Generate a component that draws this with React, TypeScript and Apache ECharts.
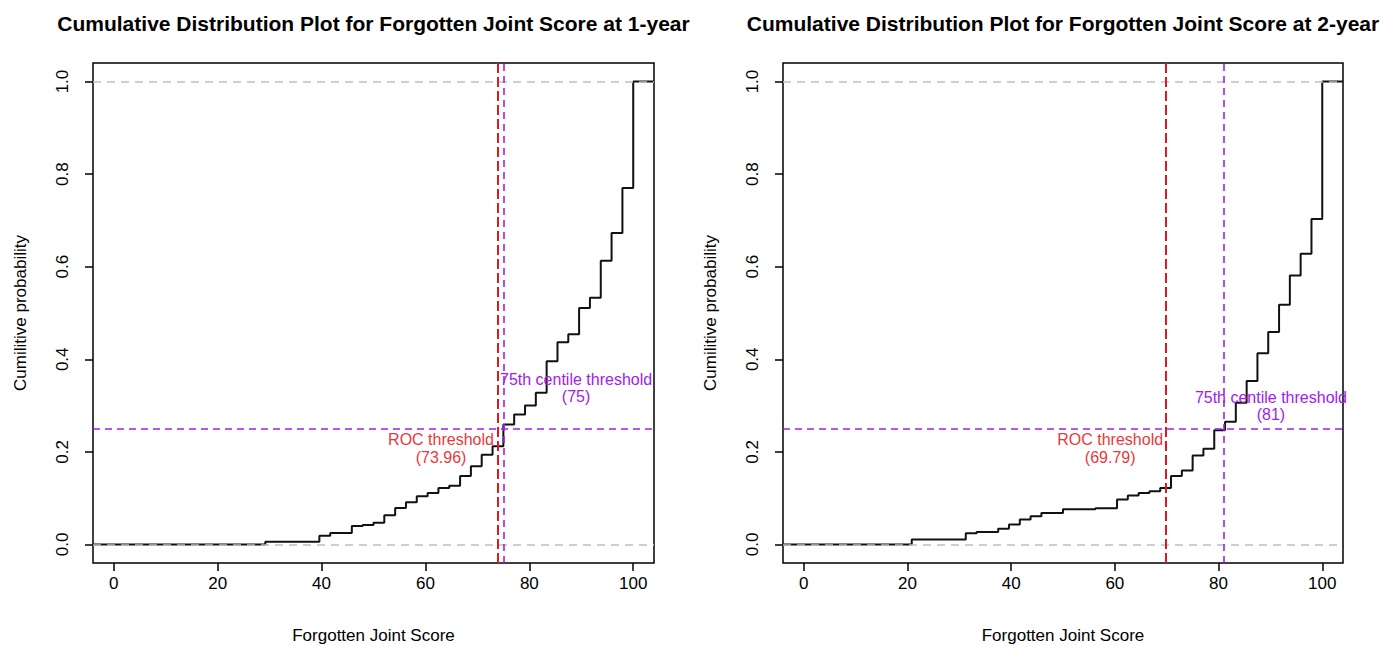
import React, { useEffect, useRef } from "react";
import * as echarts from "echarts";

// ---------- data ----------
const X_MIN = -4;
const X_MAX = 104;
const Y_MIN = -0.04;
const Y_MAX = 1.04;
const xTicks = [0, 20, 40, 60, 80, 100];
const yTicks = [0, 0.2, 0.4, 0.6, 0.8, 1.0];

const scores1y = [29.17, 39.58, 41.67, 45.83, 47.92, 50, 52.08, 54.17, 56.25, 58.33, 60.42, 62.5, 64.58, 66.67, 68.75, 70.83, 72.92, 75, 77.08, 79.17, 81.25, 83.33, 85.42, 87.5, 89.58, 91.67, 93.75, 95.83, 97.92, 100];
const cumProb1y = [0.006, 0.019, 0.025, 0.04, 0.042, 0.047, 0.063, 0.079, 0.091, 0.104, 0.111, 0.122, 0.127, 0.148, 0.169, 0.194, 0.212, 0.259, 0.281, 0.3, 0.328, 0.396, 0.437, 0.454, 0.511, 0.533, 0.613, 0.673, 0.77, 1.0];

const scores2y = [20.83, 31.25, 33.33, 37.5, 39.58, 41.67, 43.75, 45.83, 50, 56.25, 60.42, 62.5, 64.58, 66.67, 68.75, 70.83, 72.92, 75, 77.08, 79.17, 81.25, 83.33, 85.42, 87.5, 89.58, 91.67, 93.75, 95.83, 97.92, 100];
const cumProb2y = [0.011, 0.024, 0.027, 0.034, 0.043, 0.054, 0.061, 0.068, 0.076, 0.078, 0.097, 0.106, 0.111, 0.115, 0.122, 0.148, 0.16, 0.192, 0.207, 0.247, 0.265, 0.306, 0.353, 0.413, 0.459, 0.518, 0.581, 0.628, 0.703, 1.0];

const rocThresholds = [73.96, 69.79];
const centile75Thresholds = [75, 81];
const centileLevel = 0.25;
const refLevels = [0, 1];

const titles = [
  "Cumulative Distribution Plot for Forgotten Joint Score at 1-year",
  "Cumulative Distribution Plot for Forgotten Joint Score at 2-year",
];
const xName = "Forgotten Joint Score";
const yName = "Cumilitive probability";

const rocLabelPos = [[63, 0.207], [59.1, 0.207]];
const centileLabelPos = [[89, 0.338], [90.1, 0.3]];

// ---------- styles ----------
const FONT = "Liberation Sans, Arial, sans-serif";
const RED = "#e0191c";
const RED_TEXT = "#e8393b";
const PURPLE = "#a020f0";
const GREY = "#c0c0c0";
const TICK_LEN = 8;

const grids = [
  { left: 93, top: 63, width: 561, height: 500 },
  { left: 783, top: 63, width: 560, height: 500 },
];

function buildOption() {
  const panels = [
    { scores: scores1y, probs: cumProb1y },
    { scores: scores2y, probs: cumProb2y },
  ];
  const series: any[] = [];
  panels.forEach((p, i) => {
    const stepData: number[][] = [[X_MIN, 0]];
    p.scores.forEach((s, k) => stepData.push([s, p.probs[k]]));
    stepData.push([X_MAX, p.probs[p.probs.length - 1]]);
    series.push({
      type: "line",
      xAxisIndex: i,
      yAxisIndex: i,
      step: "end",
      symbol: "none",
      showSymbol: false,
      silent: true,
      z: 2,
      lineStyle: { color: "#111", width: 2 },
      data: stepData,
    });
    series.push({
      type: "line",
      xAxisIndex: i,
      yAxisIndex: i,
      data: [],
      z: 3,
      markLine: {
        symbol: "none",
        silent: true,
        z: 3,
        label: { show: false },
        data: refLevels.map((v) => ({
          yAxis: v,
          lineStyle: { color: GREY, width: 1.5, type: [8, 6] },
        })),
      },
    });
    series.push({
      type: "line",
      xAxisIndex: i,
      yAxisIndex: i,
      data: [],
      z: 4,
      markLine: {
        symbol: "none",
        silent: true,
        z: 4,
        label: { show: false },
        data: [
          { yAxis: centileLevel, lineStyle: { color: PURPLE, width: 1.6, type: [7, 5] } },
          { xAxis: rocThresholds[i], lineStyle: { color: RED, width: 2, type: [10, 4] } },
          { xAxis: centile75Thresholds[i], lineStyle: { color: PURPLE, width: 1.6, type: [7, 5] } },
        ],
      },
      markPoint: {
        silent: true,
        symbol: "rect",
        symbolSize: 1,
        itemStyle: { color: "rgba(0,0,0,0)" },
        data: [
          {
            coord: centileLabelPos[i],
            label: {
              show: true,
              position: "inside",
              formatter: "75th centile threshold\n(" + centile75Thresholds[i] + ")",
              color: PURPLE,
              fontSize: 16,
              lineHeight: 17,
              align: "center",
              fontFamily: FONT,
            },
          },
          {
            coord: rocLabelPos[i],
            label: {
              show: true,
              position: "inside",
              formatter: "ROC threshold\n(" + rocThresholds[i].toFixed(2) + ")",
              color: RED_TEXT,
              fontSize: 16,
              lineHeight: 18,
              align: "center",
              fontFamily: FONT,
            },
          },
        ],
      },
    });
  });

  const tickStyle = { show: true, inside: false, length: TICK_LEN, lineStyle: { color: "#000", width: 1.5 } };
  const nGrids = grids.length;

  // main axes (index 0..n-1) + hidden helper axes (index n..2n-1) whose zero sits on the
  // grid edge, so the main axes' tick marks are anchored on the box edge
  const xAxes: any[] = grids.map((_, i) => ({
    type: "value",
    gridIndex: i,
    min: X_MIN,
    max: X_MAX,
    position: "bottom",
    splitLine: { show: false },
    axisLine: { show: false, onZero: true, onZeroAxisIndex: nGrids + i },
    axisTick: { ...tickStyle, customValues: xTicks },
    axisLabel: {
      customValues: xTicks,
      color: "#000",
      fontSize: 17,
      margin: 12,
      fontFamily: FONT,
    },
    name: xName,
    nameLocation: "middle",
    nameGap: 64,
    nameTextStyle: { fontSize: 17, color: "#000", fontFamily: FONT },
  }));
  const yAxes: any[] = grids.map((_, i) => ({
    type: "value",
    gridIndex: i,
    min: Y_MIN,
    max: Y_MAX,
    position: "left",
    splitLine: { show: false },
    axisLine: { show: false, onZero: true, onZeroAxisIndex: nGrids + i },
    axisTick: { ...tickStyle, customValues: yTicks },
    axisLabel: {
      customValues: yTicks,
      rotate: 90,
      color: "#000",
      fontSize: 17,
      margin: 22,
      fontFamily: FONT,
      formatter: (v: number) => v.toFixed(1),
    },
    name: yName,
    nameLocation: "middle",
    nameRotate: 90,
    nameGap: 64,
    nameTextStyle: { fontSize: 17, color: "#000", fontFamily: FONT },
  }));
  grids.forEach((_, i) => {
    xAxes.push({ type: "value", gridIndex: i, min: 0, max: 1, show: false });
    yAxes.push({ type: "value", gridIndex: i, min: 0, max: 1, show: false });
  });

  return {
    animation: false,
    backgroundColor: "#fff",
    title: grids.map((g, i) => ({
      text: titles[i],
      left: g.left + g.width / 2,
      top: 13,
      padding: 0,
      textAlign: "center",
      textStyle: { fontSize: 21, fontWeight: "bold", color: "#000", fontFamily: FONT },
    })),
    grid: grids.map((g) => ({
      ...g,
      show: true,
      borderColor: "#000",
      borderWidth: 1.5,
      backgroundColor: "transparent",
      containLabel: false,
      outerBoundsMode: "none",
    })),
    xAxis: xAxes,
    yAxis: yAxes,
    series,
  };
}

export default function App() {
  const ref = useRef<HTMLDivElement>(null);
  useEffect(() => {
    if (!ref.current) return;
    const chart = echarts.init(ref.current, null, { renderer: "svg" });
    chart.setOption(buildOption() as any);
    return () => chart.dispose();
  }, []);
  return (
    <div
      ref={ref}
      style={{ position: "fixed", left: 0, top: 0, width: 1384, height: 646, background: "#fff" }}
    />
  );
}
